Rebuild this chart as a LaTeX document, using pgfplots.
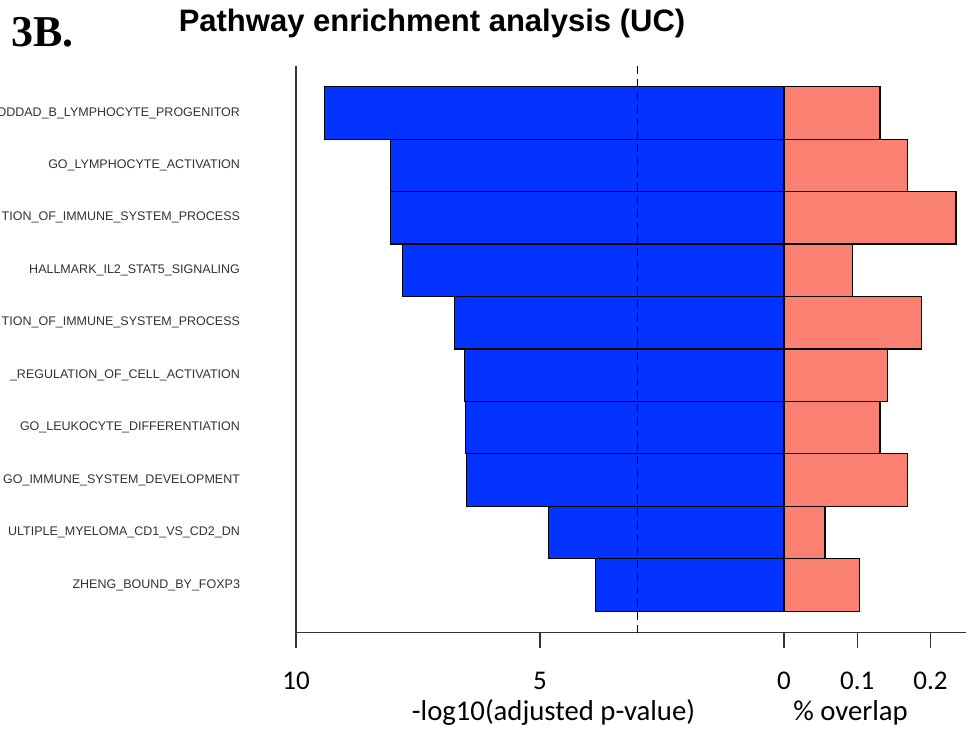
\documentclass[border=0pt]{standalone}
\usepackage{pgfplots}
\pgfplotsset{compat=1.18}
\usepackage{pgfplotstable}
\usepackage{fontspec}
\setmainfont{Liberation Sans}
\newfontfamily\calib{Carlito}
\newfontfamily\tnr{Liberation Serif}
\definecolor{barblue}{RGB}{4,51,255}
\definecolor{barsalmon}{RGB}{250,128,114}
\definecolor{axgray}{RGB}{51,51,51}
\definecolor{labgray}{RGB}{50,50,50}

\pgfplotstableread{
pos logp overlap
1 3.87 0.103
2 4.82 0.056
3 6.50 0.169
4 6.53 0.131
5 6.54 0.141
6 6.76 0.188
7 7.81 0.094
8 8.07 0.235
9 8.07 0.169
10 9.41 0.131
}\datatable

\begin{document}
\begin{tikzpicture}
\useasboundingbox (0pt,0pt) rectangle (966pt,-730pt);
\clip (0pt,0pt) rectangle (966pt,-730pt);

\begin{axis}[
  at={(296pt,-632.7pt)}, anchor=south west,
  width=488pt, height=566.7pt, scale only axis,
  xmin=-10, xmax=0, ymin=0.088, ymax=10.896,
  axis x line*=bottom, axis y line*=left,
  axis line style={-, draw=axgray, line width=1.4pt},
  xtick={-10,-5,0}, xticklabels={10,5,0},
  ytick={1,...,10},
  yticklabels={ZHENG\_BOUND\_BY\_FOXP3, ULTIPLE\_MYELOMA\_CD1\_VS\_CD2\_DN, GO\_IMMUNE\_SYSTEM\_DEVELOPMENT, GO\_LEUKOCYTE\_DIFFERENTIATION, \_REGULATION\_OF\_CELL\_ACTIVATION, TION\_OF\_IMMUNE\_SYSTEM\_PROCESS, HALLMARK\_IL2\_STAT5\_SIGNALING, TION\_OF\_IMMUNE\_SYSTEM\_PROCESS, GO\_LYMPHOCYTE\_ACTIVATION, ODDAD\_B\_LYMPHOCYTE\_PROGENITOR},
  tick align=outside, major tick length=15.5pt,
  xtick style={draw=axgray, line width=1.4pt},
  ytick style={draw=none},
  xticklabel style={font=\calib\fontsize{27}{27}\selectfont, text=black, yshift=-20pt},
  yticklabel style={font=\fontsize{12.5}{12.5}\selectfont, text=labgray, anchor=east, xshift=-37pt},
  bar width=1,
  clip=false,
]
\addplot[xbar, bar shift=0pt, fill=barblue, draw=black, line width=1.2pt]
  table[x expr=-\thisrow{logp}, y=pos] {\datatable};
\addplot[draw=black, line width=1.5pt, dash pattern=on 8pt off 5pt]
  coordinates {(-3,0.088) (-3,10.896)};
\end{axis}

\begin{axis}[
  at={(784pt,-632.7pt)}, anchor=south west,
  width=182pt, height=566.7pt, scale only axis,
  xmin=0, xmax=0.2486, ymin=0.088, ymax=10.896,
  axis x line*=bottom, axis y line=none,
  axis line style={-, draw=axgray, line width=1.4pt},
  xtick={0.1,0.2}, xticklabels={0.1,0.2},
  tick align=outside, major tick length=15.5pt,
  xtick style={draw=axgray, line width=1.4pt},
  xticklabel style={font=\calib\fontsize{27}{27}\selectfont, text=black, yshift=-20pt},
  bar width=1,
  clip=false,
]
\addplot[xbar, bar shift=0pt, fill=barsalmon, draw=black, line width=1.2pt]
  table[x=overlap, y=pos] {\datatable};
\end{axis}

\node[font=\bfseries\fontsize{31}{31}\selectfont, anchor=base] at (432pt,-32pt) {Pathway enrichment analysis (UC)};
\node[font=\tnr\bfseries\fontsize{44}{44}\selectfont, anchor=base west, inner sep=0pt] at (11pt,-47pt) {3B.};
\node[font=\calib\fontsize{28.7}{28.7}\selectfont, anchor=base] at (553.5pt,-720pt) {-log10(adjusted p-value)};
\node[font=\calib\fontsize{28.7}{28.7}\selectfont, anchor=base] at (850.5pt,-720pt) {\% overlap};
\end{tikzpicture}
\end{document}
